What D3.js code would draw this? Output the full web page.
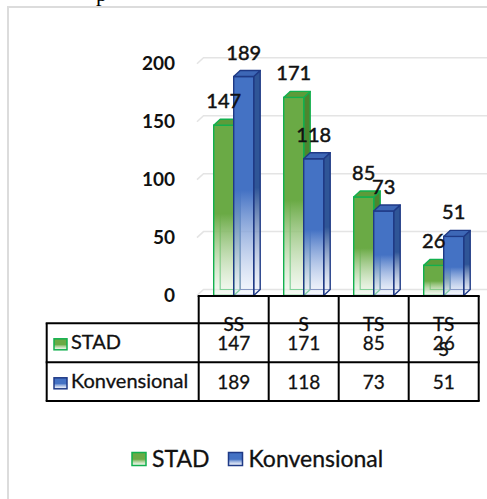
<!DOCTYPE html>
<html>
<head>
<meta charset="utf-8">
<script src="https://cdn.jsdelivr.net/npm/d3@7"></script>
<style>
  body { margin: 0; background: #fff; }
  svg { display: block; }
</style>
</head>
<body>
<div id="chart"></div>
<script>
// data
var categories = ['SS', 'S', 'TS', 'TSS']
var categoryLines = [['SS'], ['S'], ['TS'], ['TS', 'S']]
var seriesNames = ['STAD', 'Konvensional']
var stadValues = [147, 171, 85, 26]
var konvensionalValues = [189, 118, 73, 51]
var yTicks = [0, 50, 100, 150, 200]

var W = 487, H = 499
var font = 'Lato, "Open Sans", sans-serif'

// 3D depth of the bars and back wall
var dx = 6.5, dy = -6

var themes = [
  { front: '#6aaa45', top: '#5d9b3a', side: '#4d852f', stroke: '#12b04e', light: '#eef6ea' },
  { front: '#4472c4', top: '#3d67b6', side: '#2f5597', stroke: '#1f3a86', light: '#eef2fb' }
]
var series = [stadValues, konvensionalValues]

var svg = d3.select('#chart').append('svg')
  .attr('width', W)
  .attr('height', H)

var defs = svg.append('defs')
themes.forEach(function (t, s) {
  ['front', 'side', 'top'].forEach(function (face) {
    var g = defs.append('linearGradient')
      .attr('id', 'g' + s + face)
      .attr('x1', 0).attr('y1', 0).attr('x2', 0).attr('y2', 1)
    g.append('stop').attr('offset', '0%').attr('stop-color', t[face])
    g.append('stop').attr('offset', '52%').attr('stop-color', t[face])
    g.append('stop').attr('offset', '100%').attr('stop-color', t.light).attr('stop-opacity', 0.5)
  })
})

// frame of the chart area
svg.append('rect')
  .attr('x', 8).attr('y', 7)
  .attr('width', W).attr('height', H)
  .attr('fill', 'none')
  .attr('stroke', '#dcdcdc')
  .attr('stroke-width', 2)

// bit of the document text above
svg.append('text')
  .attr('x', 96).attr('y', 0.5)
  .attr('font-family', '"Liberation Serif", serif')
  .attr('font-size', 22)
  .text('p')

var y = d3.scaleLinear().domain([0, 200]).range([295.5, 63.8])
var x = d3.scaleBand().domain(categories).range([198.7, 478.7])
var barW = 20

// back wall gridlines
var grid = svg.append('g')
yTicks.forEach(function (v) {
  grid.append('path')
    .attr('d', 'M197,' + y(v) + 'L' + (197 + dx) + ',' + (y(v) + dy) + 'L' + W + ',' + (y(v) + dy))
    .attr('fill', 'none')
    .attr('stroke', '#e4e4e4')
    .attr('stroke-width', 1.5)
})

// y axis labels
var yAxis = svg.append('g')
  .attr('transform', 'translate(175,0)')
  .call(d3.axisLeft(y).tickValues(yTicks).tickSize(0).tickPadding(0))
yAxis.select('.domain').remove()
yAxis.selectAll('text')
  .attr('font-family', font)
  .attr('font-weight', 'bold')
  .attr('font-size', 19)
  .attr('fill', '#111')

// bars
var bars = svg.append('g')
var y0 = y(0)
categories.forEach(function (cat, i) {
  series.forEach(function (vals, s) {
    var t = themes[s]
    var v = vals[i]
    var bx = x(cat) + x.bandwidth() / 2 - barW + s * barW
    var top = y(v)
    var b = bars.append('g')

    // back edges, seen through the faded lower part
    b.append('path')
      .attr('d', 'M' + (bx + dx) + ',' + (top + dy) + 'L' + (bx + dx) + ',' + (y0 + dy) +
        'L' + (bx + barW + dx) + ',' + (y0 + dy))
      .attr('fill', 'none')
      .attr('stroke', t.stroke)
      .attr('stroke-width', 1.2)

    b.append('path')
      .attr('d', 'M' + (bx + barW) + ',' + top + 'L' + (bx + barW + dx) + ',' + (top + dy) +
        'L' + (bx + barW + dx) + ',' + (y0 + dy) + 'L' + (bx + barW) + ',' + y0 + 'Z')
      .attr('fill', 'url(#g' + s + 'side)')
      .attr('stroke', t.stroke)
      .attr('stroke-width', 1.4)
      .attr('stroke-linejoin', 'round')

    b.append('rect')
      .attr('x', bx).attr('y', top)
      .attr('width', barW).attr('height', y0 - top)
      .attr('fill', 'url(#g' + s + 'front)')
      .attr('stroke', t.stroke)
      .attr('stroke-width', 1.4)

    b.append('path')
      .attr('d', 'M' + bx + ',' + top + 'L' + (bx + dx) + ',' + (top + dy) +
        'L' + (bx + barW + dx) + ',' + (top + dy) + 'L' + (bx + barW) + ',' + top + 'Z')
      .attr('fill', t.top)
      .attr('stroke', t.stroke)
      .attr('stroke-width', 1.4)
      .attr('stroke-linejoin', 'round')
  })
})

// value labels
var labels = svg.append('g')
categories.forEach(function (cat, i) {
  series.forEach(function (vals, s) {
    var bx = x(cat) + x.bandwidth() / 2 - barW + s * barW
    labels.append('text')
      .attr('x', bx + barW / 2)
      .attr('y', y(vals[i]) - 17)
      .attr('text-anchor', 'middle')
      .attr('font-family', font)
      .attr('font-size', 20)
      .attr('fill', '#111')
      .attr('stroke', '#111')
      .attr('stroke-width', 0.5)
      .text(vals[i])
  })
})

// data table
var table = svg.append('g')
var tLeft = 46.7, tTop = 296, rowTops = [323.3, 362.3], tBottom = 401
var colEdges = categories.map(function (c) { return x(c) }).concat([x.range()[1]])

function cellText(sel) {
  return sel
    .attr('font-family', font)
    .attr('fill', '#111')
    .attr('stroke', '#111')
    .attr('stroke-width', 0.3)
}

categories.forEach(function (cat, i) {
  var cx = x(cat) + x.bandwidth() / 2
  categoryLines[i].forEach(function (line, k) {
    table.append('text')
      .attr('x', cx)
      .attr('y', 331 + k * 25)
      .attr('text-anchor', 'middle')
      .attr('font-size', 19)
      .call(cellText)
      .text(line)
  })
  series.forEach(function (vals, s) {
    table.append('text')
      .attr('x', cx)
      .attr('y', rowTops[s] + 26.5)
      .attr('text-anchor', 'middle')
      .attr('font-size', 19)
      .call(cellText)
      .text(vals[i])
  })
})

seriesNames.forEach(function (name, s) {
  var rt = rowTops[s]
  table.append('rect')
    .attr('x', 54).attr('y', rt + 15.5)
    .attr('width', 13).attr('height', 11)
    .attr('fill', 'url(#g' + s + 'front)')
    .attr('stroke', themes[s].stroke)
    .attr('stroke-width', 1.5)
  table.append('text')
    .attr('x', 71)
    .attr('y', rt + 25.5)
    .attr('font-size', 20)
    .call(cellText)
    .text(name)
})

function hline(y1, x1, x2) {
  table.append('line')
    .attr('x1', x1).attr('x2', x2).attr('y1', y1).attr('y2', y1)
    .attr('stroke', '#000').attr('stroke-width', 2)
}
function vline(x1, y1, y2) {
  table.append('line')
    .attr('x1', x1).attr('x2', x1).attr('y1', y1).attr('y2', y2)
    .attr('stroke', '#000').attr('stroke-width', 2)
}
var tRight = colEdges[colEdges.length - 1] + 1
hline(tTop, colEdges[0] - 1, tRight)
hline(rowTops[0], tLeft - 1, tRight)
hline(rowTops[1], tLeft - 1, tRight)
hline(tBottom, tLeft - 1, tRight)
vline(tLeft, rowTops[0], tBottom)
colEdges.forEach(function (cx) { vline(cx, tTop, tBottom) })

// legend
var legend = svg.append('g')
var legendX = [132, 228.5]
seriesNames.forEach(function (name, s) {
  legend.append('rect')
    .attr('x', legendX[s]).attr('y', 452.5)
    .attr('width', 14).attr('height', 13)
    .attr('fill', 'url(#g' + s + 'front)')
    .attr('stroke', themes[s].stroke)
    .attr('stroke-width', 1.5)
  legend.append('text')
    .attr('x', legendX[s] + 20)
    .attr('y', 466.5)
    .attr('font-family', font)
    .attr('font-size', 23)
    .attr('fill', '#111')
    .attr('stroke', '#111')
    .attr('stroke-width', 0.3)
    .text(name)
})
</script>
</body>
</html>
